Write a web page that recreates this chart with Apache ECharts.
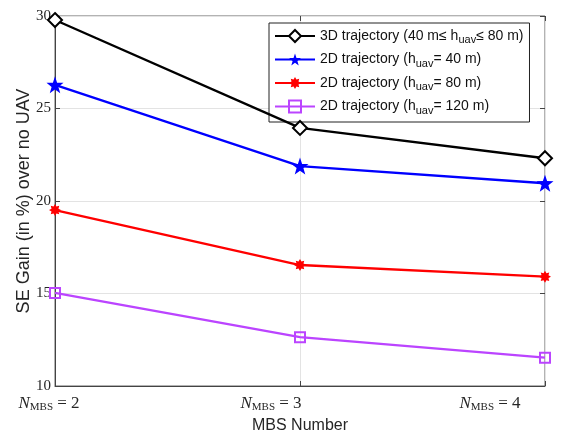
<!DOCTYPE html>
<html><head><meta charset="utf-8">
<script src="https://cdn.jsdelivr.net/npm/echarts@6/dist/echarts.min.js"></script>
<style>html,body{margin:0;padding:0;background:#fff}#c{width:581px;height:437px}</style>
</head><body><div id="c"></div>
<script>
var categories = ['2', '3', '4'];
var yTicks = [10, 15, 20, 25, 30];
var s3d = [29.78, 23.95, 22.31];
var s2d40 = [26.28, 21.89, 20.96];
var s2d80 = [19.51, 16.54, 15.91];
var s2d120 = [15.03, 12.64, 11.53];
var names = ['3D trajectory (40 m≤ huav≤ 80 m)', '2D trajectory (huav= 40 m)', '2D trajectory (huav= 80 m)', '2D trajectory (huav= 120 m)'];
var legendRich = [
  '{t|3D trajectory (40 m≤ h}{s|uav}{t|≤ 80 m)}',
  '{t|2D trajectory (h}{s|uav}{t|= 40 m)}',
  '{t|2D trajectory (h}{s|uav}{t|= 80 m)}',
  '{t|2D trajectory (h}{s|uav}{t|= 120 m)}'
];
var colors = ['#000000', '#0000ff', '#ff0000', '#bb44ff'];

var star = 'path://M0,-10 L2.35,-3.24 L9.51,-3.09 L3.8,1.24 L5.88,8.09 L0,4 L-5.88,8.09 L-3.8,1.24 L-9.51,-3.09 L-2.35,-3.24 Z';
var aster = 'path://M0,-10 L2.4,-5.8 L7.07,-7.07 L5.8,-2.4 L10,0 L5.8,2.4 L7.07,7.07 L2.4,5.8 L0,10 L-2.4,5.8 L-7.07,7.07 L-5.8,2.4 L-10,0 L-5.8,-2.4 L-7.07,-7.07 L-2.4,-5.8 Z';

var chart = echarts.init(document.getElementById('c'), null, {renderer: 'canvas'});
var axisColor = '#262626';
var serif = 'Liberation Serif';
var sans = 'Liberation Sans';
var labelRich = {
  n: {fontFamily: serif, fontStyle: 'italic', fontSize: 17, color: axisColor},
  s: {fontFamily: serif, fontSize: 11, color: axisColor, padding: [8, 0, 0, 0]},
  e: {fontFamily: serif, fontSize: 17, color: axisColor},
  p0: {width: 12}, p1: {width: 58}, p2: {width: 110}
};
function series(i, data, sym, size, extra) {
  var o = {
    name: names[i], type: 'line', data: data, symbol: sym, symbolSize: size,
    lineStyle: {color: colors[i], width: 2.3},
    itemStyle: {color: colors[i], borderColor: colors[i], borderWidth: 0},
    z: 10 - i
  };
  if (extra) Object.assign(o.itemStyle, extra);
  return o;
}
chart.setOption({
  animation: false,
  backgroundColor: '#fff',
  grid: {left: 55, right: 36, top: 16, bottom: 51, show: true, borderColor: '#666', borderWidth: 1,
    outerBoundsMode: 'none', containLabel: false},
  xAxis: [{
    type: 'category', data: categories, boundaryGap: false,
    name: 'MBS Number', nameLocation: 'middle', nameGap: 32, nameMoveOverlap: false,
    nameTextStyle: {fontFamily: sans, fontSize: 16, color: axisColor},
    axisLine: {lineStyle: {color: '#444', width: 1}},
    axisTick: {inside: true, length: 5, lineStyle: {color: '#444'}},
    splitLine: {show: true, lineStyle: {color: '#e3e3e3', width: 1}},
    axisLabel: {margin: 8, rich: labelRich, formatter: function (v, idx) {
      return '{n|N}{s|MBS}{e| = ' + v + '}{p' + idx + '|}';
    }}
  }, {
    type: 'category', data: categories, boundaryGap: false, position: 'top',
    axisLine: {show: false}, axisLabel: {show: false},
    axisTick: {inside: true, length: 5, lineStyle: {color: '#444'}}, splitLine: {show: false}
  }],
  yAxis: [{
    type: 'value', min: 10, max: 30, interval: 5,
    name: 'SE Gain (in %) over no UAV', nameLocation: 'middle', nameGap: 22, nameMoveOverlap: false,
    nameTextStyle: {fontFamily: sans, fontSize: 18, color: axisColor},
    axisLine: {show: true, lineStyle: {color: '#444', width: 1}},
    axisTick: {show: true, inside: true, length: 5, lineStyle: {color: '#444'}},
    splitLine: {show: true, lineStyle: {color: '#e3e3e3', width: 1}},
    axisLabel: {margin: 4, fontFamily: serif, fontSize: 15, color: axisColor,
      formatter: function (v) { return yTicks.indexOf(v) >= 0 ? String(v) : ''; }}
  }, {
    type: 'value', min: 10, max: 30, interval: 5, position: 'right',
    axisLine: {show: false}, axisLabel: {show: false},
    axisTick: {show: true, inside: true, length: 5, lineStyle: {color: '#444'}}, splitLine: {show: false}
  }],
  legend: {
    left: 269, top: 23, orient: 'vertical',
    backgroundColor: '#fff', borderColor: '#222', borderWidth: 1,
    padding: [6, 6, 6, 5], itemGap: 7, itemWidth: 40, itemHeight: 15,
    data: names,
    formatter: function (n) { return legendRich[names.indexOf(n)]; },
    textStyle: {
      rich: {
        t: {fontFamily: sans, fontSize: 14, color: '#111'},
        s: {fontFamily: sans, fontSize: 11, color: '#111', padding: [8, 0, 0, 0]}
      }
    }
  },
  series: [
    series(0, s3d, 'diamond', 14, {color: '#fff', borderColor: '#000', borderWidth: 2}),
    series(1, s2d40, star, 17),
    series(2, s2d80, aster, 12),
    series(3, s2d120, 'rect', 10, {color: 'rgba(255,255,255,0)', borderColor: colors[3], borderWidth: 2})
  ]
});
</script></body></html>
